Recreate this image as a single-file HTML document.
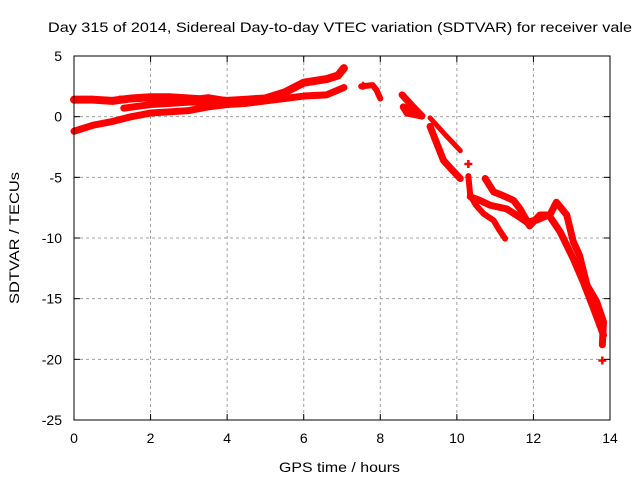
<!DOCTYPE html>
<html><head><meta charset="utf-8"><style>body{margin:0;background:#fff}svg{display:block;font-family:"Liberation Sans",Arial,sans-serif}</style></head>
<body>
<svg id="c" width="640" height="480">
<text x="48" y="32" font-size="14" textLength="584" lengthAdjust="spacingAndGlyphs" fill="#000">Day 315 of 2014, Sidereal Day-to-day VTEC variation (SDTVAR) for receiver vale</text>
<text x="279" y="472" font-size="14" textLength="121" lengthAdjust="spacingAndGlyphs">GPS time / hours</text>
<text x="0" y="0" font-size="14" textLength="132" lengthAdjust="spacingAndGlyphs" text-anchor="middle" transform="translate(19,238) rotate(-90)">SDTVAR / TECUs</text>
<g id="grid"></g><g id="data"></g><g id="axes"></g>
</svg>
<script>
const xTicks=[0,2,4,6,8,10,12,14];
const yTicks=[5,0,-5,-10,-15,-20,-25];
const trackAx=[0,0.5,1,1.5,2,2.5,3,3.5,4,4.5,5,5.5,6,6.6,6.9,7.05];
const trackAy=[1.4,1.4,1.3,1.5,1.6,1.6,1.5,1.4,1.3,1.4,1.5,2.0,2.8,3.1,3.4,4.0];
const trackBx=[0,0.5,1,1.5,2,2.5,3,3.5,4,4.5,5,5.5,6,6.6,7.05];
const trackBy=[-1.2,-0.7,-0.4,0,0.3,0.4,0.5,0.8,1.0,1.1,1.3,1.5,1.7,1.8,2.4];
const trackCx=[1.3,2,2.5,3,3.5,4,4.5];
const trackCy=[0.7,1.0,1.1,1.2,1.2,1.1,1.2];
const trackC2x=[1.2,2,3,3.5,4.3];
const trackC2y=[1.5,1.5,1.4,1.6,1.2];
const trackDx=[7.5,7.8,7.9,8.0];
const trackDy=[2.5,2.6,2.2,1.5];
const trackEx=[8.57,8.8,9.09,8.7,8.6,8.9];
const trackEy=[1.8,1.0,0.05,0.3,0.8,0.4];
const trackFx=[9.3,9.7,10.09];
const trackFy=[-0.1,-1.5,-2.8];
const trackGx=[9.3,9.45,9.65,9.85,10.09];
const trackGy=[-0.8,-2.0,-3.6,-4.3,-5.1];
const trackHx=[10.3,10.35,10.5,10.7,10.96,11.1,11.26];
const trackHy=[-4.9,-6.5,-7.3,-8.0,-8.55,-9.3,-10.05];
const trackIx=[10.74,10.96,11.2,11.48,11.65,11.9,12.17,12.43,12.6,12.87,13.04,13.2,13.4,13.65,13.83,13.8];
const trackIy=[-5.1,-6.2,-6.5,-6.9,-7.6,-9.0,-8.1,-8.1,-7.05,-8.1,-10.3,-11.4,-13.9,-15.25,-16.9,-18.8];
const trackJx=[10.35,10.6,10.87,11.3,11.6,11.83,12.1,12.4,12.7,13.04,13.3,13.57,13.83];
const trackJy=[-6.6,-6.9,-7.3,-7.6,-8.2,-8.7,-8.5,-8.1,-9.5,-11.7,-13.6,-15.8,-18.0];
const singleX=[10.3,13.8,7.55];
const singleY=[-3.9,-20.1,2.55];
const tracks=[[trackAx,trackAy,8],[trackBx,trackBy,7],[trackCx,trackCy,7],[trackC2x,trackC2y,6],[trackDx,trackDy,6],[trackEx,trackEy,7],[trackFx,trackFy,5],[trackGx,trackGy,7],[trackHx,trackHy,6],[trackIx,trackIy,7],[trackJx,trackJy,7]];
const X0=74,X1=610,Y0=56,Y1=420;
const sx=v=>X0+(v-0)/(14-0)*(X1-X0);
const sy=v=>Y0+(5-v)/(5+25)*(Y1-Y0);
const NS="http://www.w3.org/2000/svg";
function mk(t,a,p){const e=document.createElementNS(NS,t);for(const k in a)e.setAttribute(k,a[k]);p.appendChild(e);return e;}
const grid=document.getElementById('grid'),axes=document.getElementById('axes'),data=document.getElementById('data');
xTicks.forEach(t=>{
 if(t>0&&t<14){const g=mk('line',{x1:sx(t),x2:sx(t),y1:Y0,y2:Y1,stroke:'#a0a0a0','stroke-dasharray':'3,3'},grid);
 
 }
 mk('line',{x1:sx(t),x2:sx(t),y1:Y1,y2:Y1-6,stroke:'#000'},axes);
 mk('line',{x1:sx(t),x2:sx(t),y1:Y0,y2:Y0+6,stroke:'#000'},axes);
 const l=mk('text',{x:sx(t),y:443,'font-size':14,'text-anchor':'middle'},axes);l.textContent=t;
 
 
});
yTicks.forEach(t=>{
 if(t<5&&t>-25){const g=mk('line',{x1:X0,x2:X1,y1:sy(t),y2:sy(t),stroke:'#a0a0a0','stroke-dasharray':'3,3'},grid);
 
 }
 mk('line',{x1:X0,x2:X0+6,y1:sy(t),y2:sy(t),stroke:'#000'},axes);
 mk('line',{x1:X1,x2:X1-6,y1:sy(t),y2:sy(t),stroke:'#000'},axes);
 const l=mk('text',{x:62,y:sy(t)+5,'font-size':14,'text-anchor':'end'},axes);l.textContent=t;
 
 
});
const fr=mk('rect',{x:X0,y:Y0,width:X1-X0,height:Y1-Y0,fill:'none',stroke:'#000'},axes);


tracks.forEach(([xs,ys,w])=>{
 const p=mk('polyline',{points:xs.map((x,i)=>sx(x)+','+sy(ys[i])).join(' '),fill:'none',stroke:'#ff0000','stroke-width':w,'stroke-linejoin':'round','stroke-linecap':'round'},data);
 
 
});
singleX.forEach((x,i)=>{
 const g=mk('path',{d:`M${sx(x)-4},${sy(singleY[i])}h8M${sx(x)},${sy(singleY[i])-4}v8`,stroke:'#ff0000','stroke-width':2.5},data);
 
 
});
</script>
</body></html>
